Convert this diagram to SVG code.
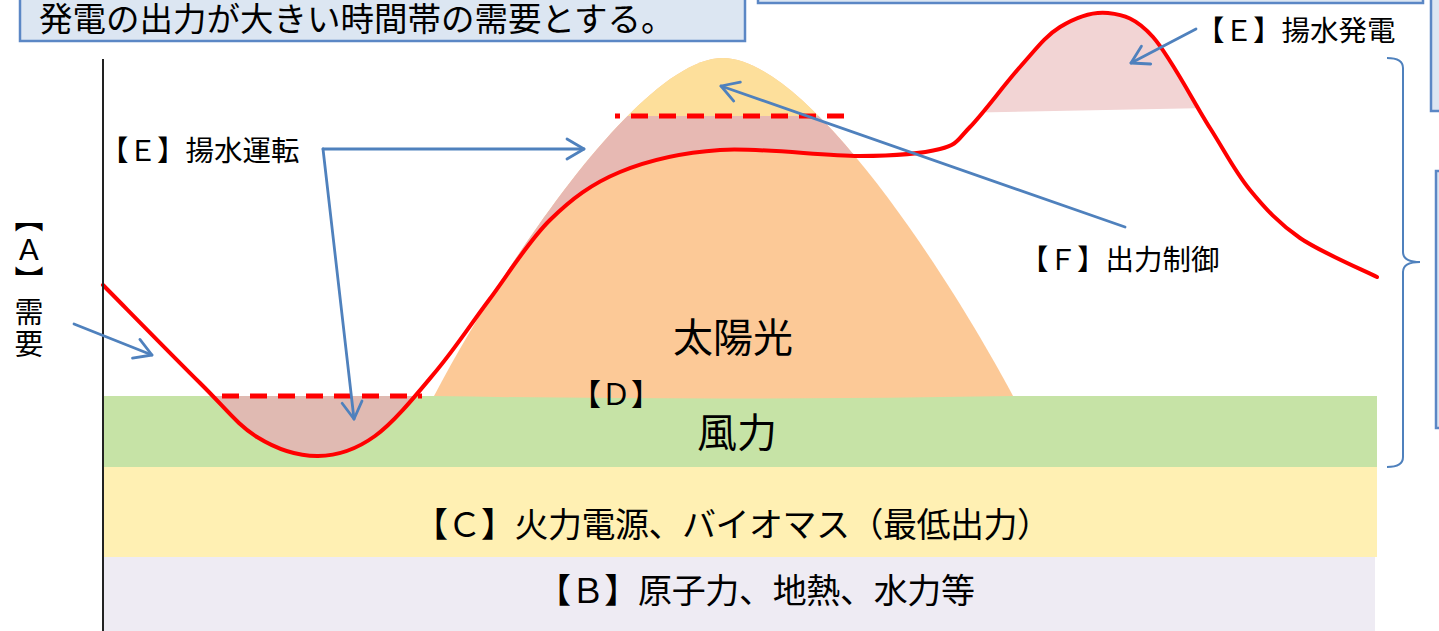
<svg xmlns="http://www.w3.org/2000/svg" width="1439" height="631" viewBox="0 0 1439 631">
<style>
.t{font-family:"Noto Sans CJK JP","Noto Sans",sans-serif;fill:#000}
.box{fill:#dce6f2;stroke:#5b87c5;stroke-width:2.5}
.arr{fill:none;stroke:#4f81bd;stroke-width:2.8;stroke-linecap:round;marker-end:url(#ah)}
.dash{fill:none;stroke:#ff0000;stroke-width:5;stroke-dasharray:17 11}
.vert{writing-mode:vertical-rl;text-orientation:upright}
</style>
<defs>
<marker id="ah" markerUnits="userSpaceOnUse" markerWidth="30" markerHeight="30" viewBox="-20 -15 30 30" refX="0" refY="0" orient="auto" overflow="visible">
<path d="M-17,-10 L0,0 L-17,10" fill="none" stroke="#4f81bd" stroke-width="2.8" stroke-linecap="round" stroke-linejoin="round"/>
</marker>
<clipPath id="solarClip"><path d="M434,396 C500,270 640,58 723,58 C806,58 946,270 1013,396 Q723,401 434,396 Z"/></clipPath>
<clipPath id="valleyClip"><rect x="0" y="396" width="1439" height="80"/></clipPath>
<clipPath id="genClip"><path d="M900,114 L1260,107 L1260,0 L900,0 Z"/></clipPath>
</defs>
<rect width="1439" height="631" fill="#fff"/>
<g id="band-b"><rect x="103" y="557" width="1272" height="74" fill="#eeebf3"/>
<text class="t" x="537" y="603" font-size="34" textLength="438" lengthAdjust="spacing">【Ｂ】原子力、地熱、水力等</text></g>
<g id="band-c"><rect x="103" y="467" width="1274" height="90" fill="#fff0b3"/>
<text class="t" x="414" y="537" font-size="34" textLength="637" lengthAdjust="spacing">【Ｃ】火力電源、バイオマス（最低出力）</text></g>
<g id="band-wind"><rect x="103" y="396" width="1274" height="71" fill="#c6e3a6"/></g>
<g id="solar">
<path d="M434,396 C500,270 640,58 723,58 C806,58 946,270 1013,396 Q723,401 434,396 Z" fill="#fcc997"/>
<rect x="400" y="40" width="650" height="76" fill="#fddf9b" clip-path="url(#solarClip)"/>
<path d="M437,370 C456,347.3 470.2,325 489,300 C507.8,275 528.2,241.3 550,220 C571.8,198.7 591.7,183.7 620,172 C648.3,160.3 680,152.7 720,150 C760,147.3 823.3,156.2 860,156 C896.7,155.8 921.7,153.8 940,149 L1000,149 L1000,116 L437,116 Z" fill="#e7b9b3" clip-path="url(#solarClip)"/>
</g>
<g id="pump-valley"><path d="M200,383 C225.7,408.3 237.3,424.8 257,437 C276.7,449.2 298.3,456.2 318,456 C337.7,455.8 355.2,450.3 375,436 C394.8,421.7 418,392.7 437,370 L437,300 L200,300 Z" fill="#e0bab2" clip-path="url(#valleyClip)"/></g>
<g id="pump-gen"><path d="M970,127 C983.3,113.3 1005,83.7 1020,67 C1035,50.3 1045.3,36 1060,27 C1074.7,18 1092.5,11.3 1108,13 C1123.5,14.7 1136,17.8 1153,37 C1170,56.2 1193.8,102.5 1210,128 Z" fill="#f2d4d4" clip-path="url(#genClip)"/></g>
<g id="limits">
<line class="dash" x1="222" y1="396" x2="422" y2="396"/>
<line class="dash" x1="615" y1="116" x2="844" y2="116" stroke-dashoffset="12"/>
</g>
<g id="demand"><path d="M103,285 C119.2,301.3 174.3,357.7 200,383 C225.7,408.3 237.3,424.8 257,437 C276.7,449.2 298.3,456.2 318,456 C337.7,455.8 355.2,450.3 375,436 C394.8,421.7 418,392.7 437,370 C456,347.3 470.2,325 489,300 C507.8,275 528.2,241.3 550,220 C571.8,198.7 591.7,183.7 620,172 C648.3,160.3 680,152.7 720,150 C760,147.3 823.3,156.2 860,156 C896.7,155.8 921.7,153.8 940,149 C958.3,144.2 956.7,140.7 970,127 C983.3,113.3 1005,83.7 1020,67 C1035,50.3 1045.3,36 1060,27 C1074.7,18 1092.5,11.3 1108,13 C1123.5,14.7 1136,17.8 1153,37 C1170,56.2 1193.8,102.5 1210,128 C1226.2,153.5 1235,171.7 1250,190 C1265,208.3 1278.8,223.5 1300,238 C1321.2,252.5 1364.2,270.5 1377,277" fill="none" stroke="#ff0000" stroke-width="4" stroke-linecap="round"/></g>
<g id="axis"><line x1="103" y1="59" x2="103" y2="631" stroke="#222" stroke-width="2"/></g>
<g id="connectors">
<path class="arr" d="M74,324 L152,355"/>
<path class="arr" d="M323,149 L584,149"/>
<path class="arr" d="M323,149 L354,419"/>
<path class="arr" d="M1125,227 L721,86"/>
<path class="arr" d="M1196,29 L1131,63"/>
</g>
<g id="labels">
<text class="t" x="733" y="352" font-size="40" text-anchor="middle">太陽光</text>
<text class="t" x="737" y="447" font-size="40" text-anchor="middle">風力</text>
<text class="t" x="571" y="405" font-size="30">【Ｄ】</text>
<text class="t" x="100" y="161" font-size="28.5">【Ｅ】揚水運転</text>
<text class="t" x="1196" y="41" font-size="28.5">【Ｅ】揚水発電</text>
<text class="t" x="1020" y="270" font-size="28.5">【Ｆ】出力制御</text>
</g>
<g id="label-a">
<text class="t vert" x="29" y="203" font-size="29" letter-spacing="2.5">【Ａ】需要</text>
</g>
<g id="brace"><path d="M1387,58 Q1403,58 1403,68 L1403,252 Q1403,262 1420,262 Q1403,262 1403,272 L1403,457 Q1403,467 1387,467" fill="none" stroke="#4f81bd" stroke-width="2"/></g>
<g id="title-box"><rect class="box" x="20" y="-10" width="725" height="51"/>
<text class="t" x="39" y="31" font-size="33.5">発電の出力が大きい時間帯の需要とする。</text></g>
<g id="top-box"><rect class="box" x="758" y="-20" width="665" height="23"/></g>
<g id="side-box-1"><rect class="box" x="1431" y="-10" width="20" height="121"/></g>
<g id="side-box-2"><rect class="box" x="1436" y="171" width="20" height="257"/></g>
</svg>
